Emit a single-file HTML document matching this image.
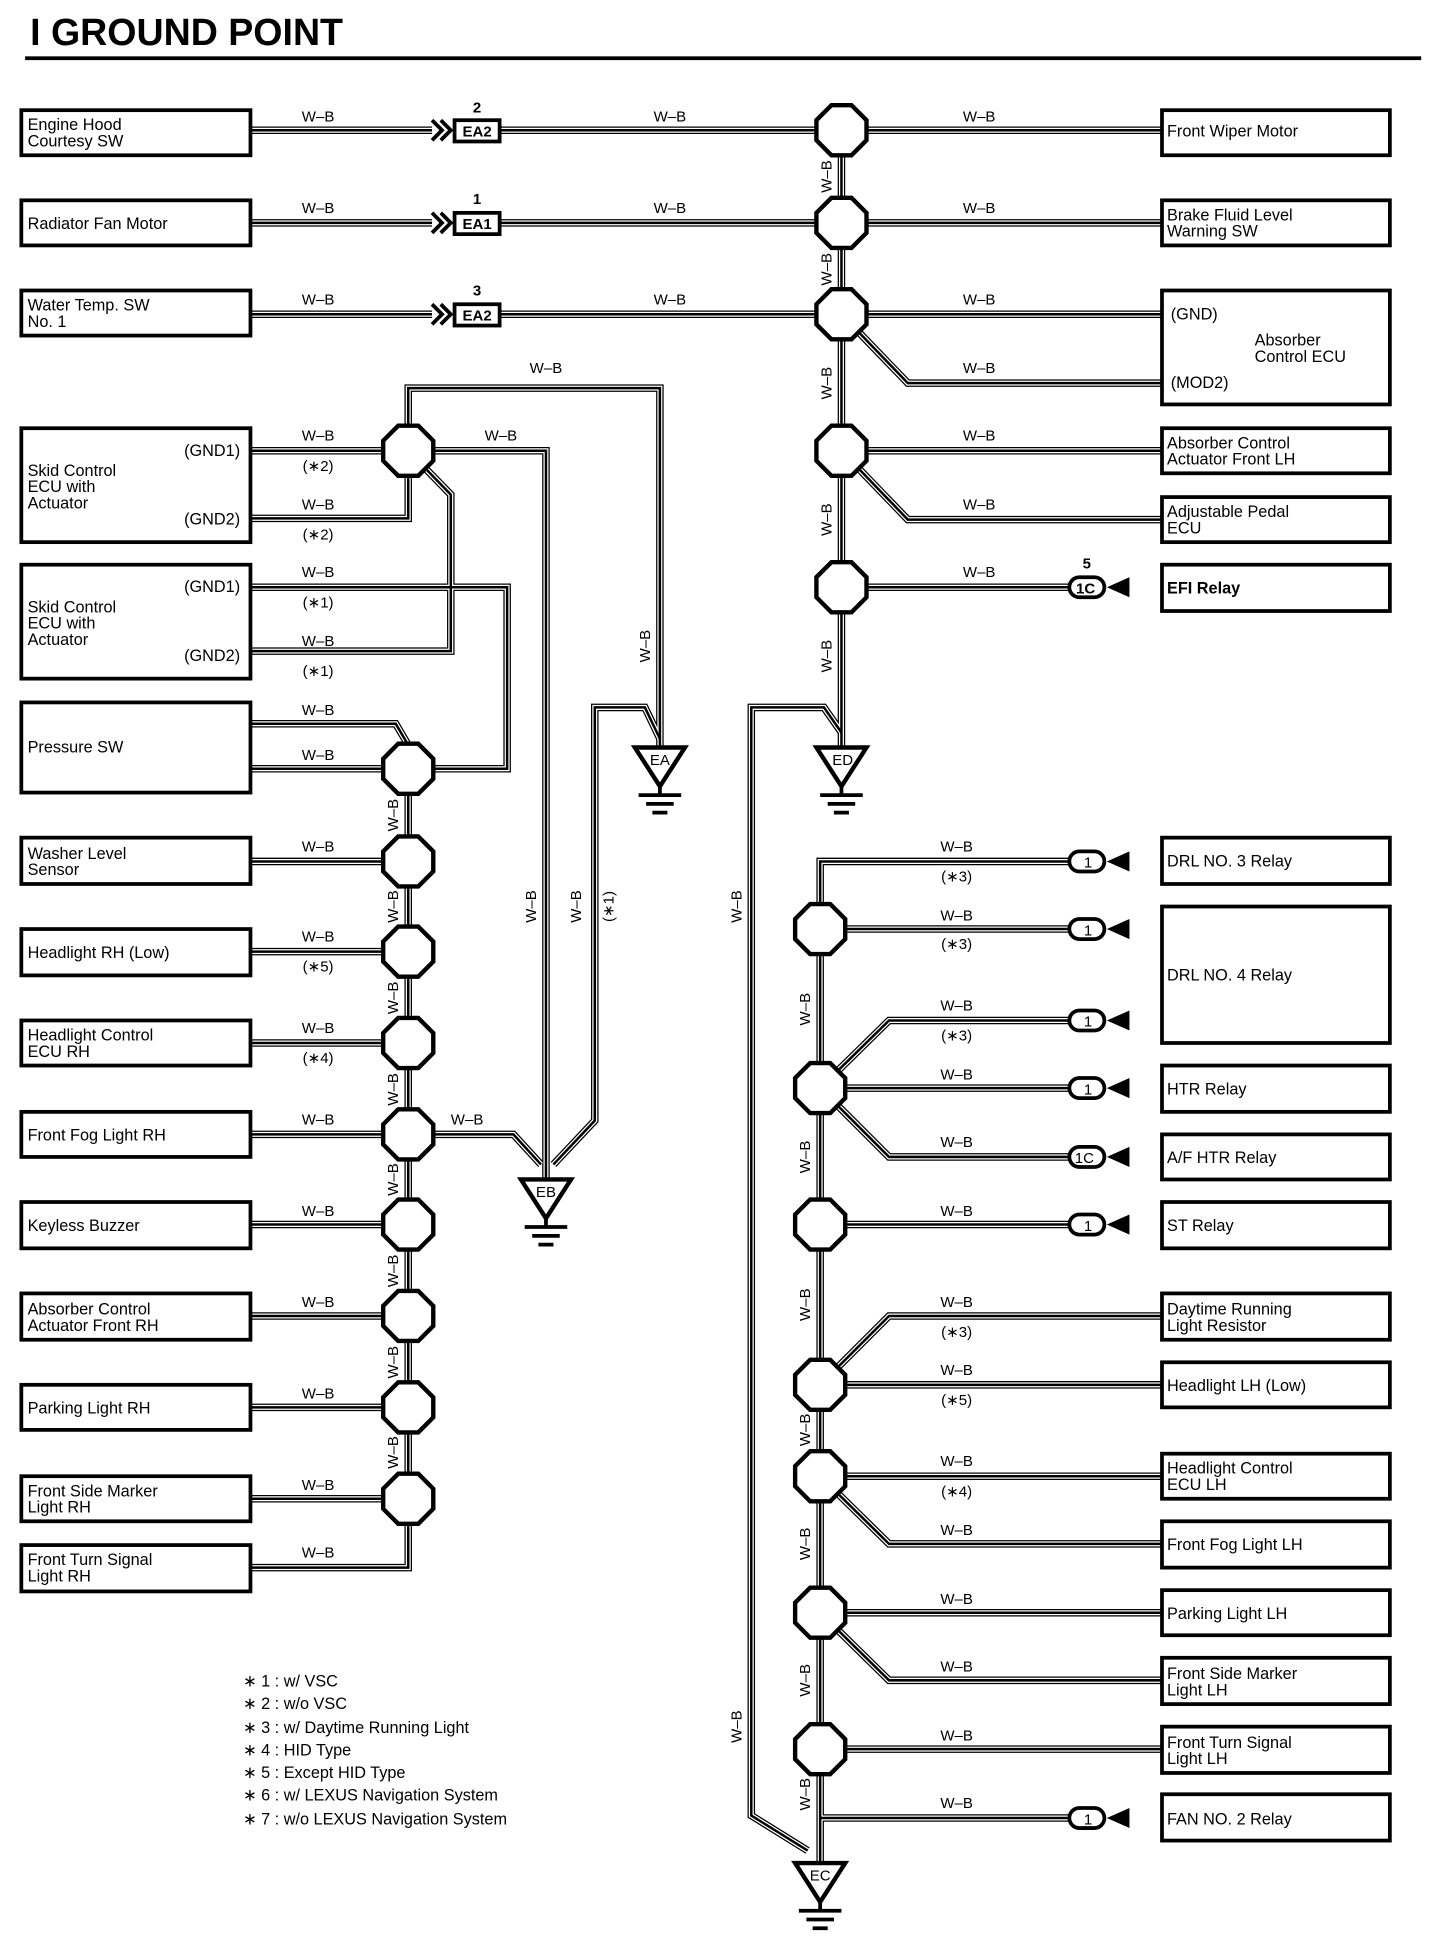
<!DOCTYPE html>
<html><head><meta charset="utf-8"><style>
html,body{margin:0;padding:0;background:#fff}
svg{display:block}
text{font-family:"Liberation Sans",sans-serif;fill:#000}
.t{font-size:13px}
.l{font-size:12px}
</style></head><body>
<svg width="1440" height="1942" viewBox="0 0 1150 1551" xmlns="http://www.w3.org/2000/svg">
<defs>
<g id="wires" fill="none" stroke-linejoin="miter">
<path d="M200,104L345,104M400,104L928,104M200,178L345,178M400,178L928,178M200,251L345,251M400,251L928,251"/>
<path d="M672,104L672,597M672,251L725,306L928,306M672,360L928,360M672,360L725,415L928,415M672,469L855,469"/>
<path d="M672,585L658,565L600,565L600,1450L645,1478"/>
<path d="M655,742L655,1488M655,742L655,688L855,688M655,742L855,742M655,869L710,815L855,815M655,869L855,869M655,869L710,924L855,924M655,978L855,978M655,1106L710,1051L928,1051M655,1106L928,1106M655,1179L928,1179M655,1179L710,1233L928,1233M655,1288L928,1288M655,1288L710,1342L928,1342M655,1397L928,1397M655,1452L855,1452"/>
<path d="M200,360L326,360M200,414L326,414L326,360M326,360L326,310L527,310L527,597M326,360L436,360L436,942M326,360L360,395L360,520L200,520M200,469L405,469L405,614L326,614M200,578L316,578L326,595M200,614L326,614M326,614L326,1252L200,1252"/>
<path d="M200,688L326,688M200,760L326,760M200,833L326,833M200,906L326,906M200,978L326,978M200,1051L326,1051M200,1124L326,1124M200,1197L326,1197"/>
<path d="M326,906L410,906L432,930M527,590L515,565L475,565L475,895L442,930"/>
</g>
<polygon id="oct" points="-8,-20 8,-20 20,-8 20,8 8,20 -8,20 -20,8 -20,-8" fill="#fff" stroke="#000" stroke-width="3.5"/>
<g id="gnd" stroke="#000" fill="#fff">
<polygon points="-20,0 20,0 0,31" stroke-width="3.5"/>
<path d="M0,31V38M-17,38H17M-11,45H11M-6,52H6" stroke-width="3"/>
</g>
<g id="con1">
<rect x="-14" y="-8" width="28" height="16" rx="8" fill="#fff" stroke="#000" stroke-width="3"/>
<polygon points="16,0 34,-8 34,8" fill="#000"/>
</g>
<g id="ea">
<rect x="18" y="-8" width="36" height="17" fill="#fff" stroke="#000" stroke-width="3"/>
<path d="M0,-8L8,0L0,8M7,-8L15,0L7,8" fill="none" stroke="#000" stroke-width="3"/>
</g>
</defs>
<text x="24" y="36" style="font-size:30px;font-weight:bold">I  GROUND POINT</text>
<rect x="20" y="45" width="1115" height="3" fill="#000"/>

<use href="#wires" stroke="#000" stroke-width="6"/>
<use href="#wires" stroke="#fff" stroke-width="4"/>
<use href="#wires" stroke="#000" stroke-width="2"/>

<g fill="#fff" stroke="#000" stroke-width="3">
<rect x="17" y="88" width="183" height="36"/><rect x="17" y="160" width="183" height="36"/><rect x="17" y="232" width="183" height="36"/>
<rect x="17" y="342" width="183" height="91"/><rect x="17" y="451" width="183" height="91"/><rect x="17" y="561" width="183" height="72"/>
<rect x="17" y="669" width="183" height="37"/><rect x="17" y="742" width="183" height="37"/><rect x="17" y="815" width="183" height="36"/>
<rect x="17" y="888" width="183" height="36"/><rect x="17" y="960" width="183" height="37"/><rect x="17" y="1033" width="183" height="37"/>
<rect x="17" y="1106" width="183" height="36"/><rect x="17" y="1179" width="183" height="36"/><rect x="17" y="1234" width="183" height="37"/>
<rect x="928" y="88" width="182" height="36"/><rect x="928" y="160" width="182" height="36"/><rect x="928" y="232" width="182" height="91"/>
<rect x="928" y="342" width="182" height="36"/><rect x="928" y="397" width="182" height="36"/><rect x="928" y="451" width="182" height="37"/>
<rect x="928" y="669" width="182" height="37"/><rect x="928" y="724" width="182" height="109"/><rect x="928" y="851" width="182" height="37"/>
<rect x="928" y="906" width="182" height="36"/><rect x="928" y="960" width="182" height="37"/><rect x="928" y="1033" width="182" height="37"/>
<rect x="928" y="1088" width="182" height="36"/><rect x="928" y="1161" width="182" height="36"/><rect x="928" y="1215" width="182" height="37"/>
<rect x="928" y="1270" width="182" height="36"/><rect x="928" y="1324" width="182" height="37"/><rect x="928" y="1379" width="182" height="37"/>
<rect x="928" y="1433" width="182" height="37"/>
</g>

<g class="t">
<text x="22" y="104">Engine Hood</text><text x="22" y="117">Courtesy SW</text>
<text x="22" y="183">Radiator Fan Motor</text>
<text x="22" y="248">Water Temp.  SW</text><text x="22" y="261">No. 1</text>
<text x="22" y="380">Skid Control</text><text x="22" y="393">ECU with</text><text x="22" y="406">Actuator</text>
<text x="147" y="364">(GND1)</text><text x="147" y="419">(GND2)</text>
<text x="22" y="489">Skid Control</text><text x="22" y="502">ECU with</text><text x="22" y="515">Actuator</text>
<text x="147" y="473">(GND1)</text><text x="147" y="528">(GND2)</text>
<text x="22" y="601">Pressure SW</text>
<text x="22" y="686">Washer Level</text><text x="22" y="699">Sensor</text>
<text x="22" y="765">Headlight RH (Low)</text>
<text x="22" y="831">Headlight Control</text><text x="22" y="844">ECU RH</text>
<text x="22" y="911">Front Fog Light RH</text>
<text x="22" y="983">Keyless Buzzer</text>
<text x="22" y="1050">Absorber Control</text><text x="22" y="1063">Actuator Front RH</text>
<text x="22" y="1129">Parking Light RH</text>
<text x="22" y="1195">Front Side Marker</text><text x="22" y="1208">Light RH</text>
<text x="22" y="1250">Front Turn Signal</text><text x="22" y="1263">Light RH</text>
<text x="932" y="109">Front Wiper Motor</text>
<text x="932" y="176">Brake Fluid Level</text><text x="932" y="189">Warning SW</text>
<text x="935" y="255">(GND)</text><text x="1002" y="276">Absorber</text><text x="1002" y="289">Control ECU</text><text x="935" y="310">(MOD2)</text>
<text x="932" y="358">Absorber Control</text><text x="932" y="371">Actuator Front LH</text>
<text x="932" y="413">Adjustable Pedal</text><text x="932" y="426">ECU</text>
<text x="932" y="474" style="font-weight:bold">EFI Relay</text>
<text x="932" y="692">DRL NO. 3 Relay</text>
<text x="932" y="783">DRL NO. 4 Relay</text>
<text x="932" y="874">HTR Relay</text>
<text x="932" y="929">A/F HTR Relay</text>
<text x="932" y="983">ST Relay</text>
<text x="932" y="1050">Daytime Running</text><text x="932" y="1063">Light Resistor</text>
<text x="932" y="1111">Headlight LH (Low)</text>
<text x="932" y="1177">Headlight Control</text><text x="932" y="1190">ECU LH</text>
<text x="932" y="1238">Front Fog Light LH</text>
<text x="932" y="1293">Parking Light LH</text>
<text x="932" y="1341">Front Side Marker</text><text x="932" y="1354">Light LH</text>
<text x="932" y="1396">Front Turn Signal</text><text x="932" y="1409">Light LH</text>
<text x="932" y="1457">FAN NO. 2 Relay</text>
</g>

<use href="#ea" x="345" y="104"/><use href="#ea" x="345" y="178"/><use href="#ea" x="345" y="251"/>
<g class="l" style="font-weight:bold" text-anchor="middle">
<text x="381" y="109">EA2</text><text x="381" y="183">EA1</text><text x="381" y="256">EA2</text>
<text x="381" y="90">2</text><text x="381" y="163">1</text><text x="381" y="236">3</text>
</g>

<g>
<use href="#oct" x="672" y="104"/><use href="#oct" x="672" y="178"/><use href="#oct" x="672" y="251"/><use href="#oct" x="672" y="360"/><use href="#oct" x="672" y="469"/>
<use href="#oct" x="326" y="360"/><use href="#oct" x="326" y="614"/><use href="#oct" x="326" y="688"/><use href="#oct" x="326" y="760"/><use href="#oct" x="326" y="833"/><use href="#oct" x="326" y="906"/><use href="#oct" x="326" y="978"/><use href="#oct" x="326" y="1051"/><use href="#oct" x="326" y="1124"/><use href="#oct" x="326" y="1197"/>
<use href="#oct" x="655" y="742"/><use href="#oct" x="655" y="869"/><use href="#oct" x="655" y="978"/><use href="#oct" x="655" y="1106"/><use href="#oct" x="655" y="1179"/><use href="#oct" x="655" y="1288"/><use href="#oct" x="655" y="1397"/>
</g>

<use href="#gnd" x="527" y="597"/><use href="#gnd" x="672" y="597"/><use href="#gnd" x="436" y="942"/><use href="#gnd" x="655" y="1488"/>
<g text-anchor="middle" style="font-size:12px">
<text x="527" y="611">EA</text><text x="673" y="611">ED</text><text x="436" y="956">EB</text><text x="655" y="1502">EC</text>
</g>

<g>
<use href="#con1" x="868" y="688"/><use href="#con1" x="868" y="742"/><use href="#con1" x="868" y="815"/><use href="#con1" x="868" y="869"/><use href="#con1" x="868" y="924"/><use href="#con1" x="868" y="978"/><use href="#con1" x="868" y="1452"/>
<use href="#con1" x="868" y="469"/>
</g>
<g class="l" text-anchor="middle">
<text x="869" y="693">1</text><text x="869" y="747">1</text><text x="869" y="820">1</text><text x="869" y="874">1</text><text x="866" y="929">1C</text><text x="869" y="983">1</text><text x="869" y="1457">1</text>
<text x="867" y="474" style="font-weight:bold">1C</text><text x="868" y="454" style="font-weight:bold">5</text>
</g>

<g class="l" text-anchor="middle">
<text x="254" y="97">W–B</text><text x="535" y="97">W–B</text><text x="782" y="97">W–B</text>
<text x="254" y="170">W–B</text><text x="535" y="170">W–B</text><text x="782" y="170">W–B</text>
<text x="254" y="243">W–B</text><text x="535" y="243">W–B</text><text x="782" y="243">W–B</text>
<text x="436" y="298">W–B</text><text x="782" y="298">W–B</text>
<text x="254" y="352">W–B</text><text x="400" y="352">W–B</text><text x="782" y="352">W–B</text>
<text x="254" y="407">W–B</text><text x="782" y="407">W–B</text>
<text x="254" y="461">W–B</text><text x="782" y="461">W–B</text>
<text x="254" y="516">W–B</text>
<text x="254" y="571">W–B</text><text x="254" y="607">W–B</text>
<text x="254" y="680">W–B</text><text x="254" y="752">W–B</text><text x="254" y="825">W–B</text><text x="254" y="898">W–B</text><text x="373" y="898">W–B</text>
<text x="254" y="971">W–B</text><text x="254" y="1044">W–B</text><text x="254" y="1117">W–B</text><text x="254" y="1190">W–B</text><text x="254" y="1244">W–B</text>
<text x="764" y="680">W–B</text><text x="764" y="735">W–B</text><text x="764" y="807">W–B</text><text x="764" y="862">W–B</text><text x="764" y="916">W–B</text><text x="764" y="971">W–B</text>
<text x="764" y="1044">W–B</text><text x="764" y="1098">W–B</text><text x="764" y="1171">W–B</text><text x="764" y="1226">W–B</text><text x="764" y="1281">W–B</text><text x="764" y="1335">W–B</text><text x="764" y="1390">W–B</text><text x="764" y="1444">W–B</text>
<text x="254" y="376">(∗2)</text><text x="254" y="431">(∗2)</text><text x="254" y="485">(∗1)</text><text x="254" y="540">(∗1)</text>
<text x="254" y="776">(∗5)</text><text x="254" y="849">(∗4)</text>
<text x="764" y="704">(∗3)</text><text x="764" y="758">(∗3)</text><text x="764" y="831">(∗3)</text><text x="764" y="1068">(∗3)</text><text x="764" y="1122">(∗5)</text><text x="764" y="1195">(∗4)</text>
</g>
<g class="l" text-anchor="middle">
<text transform="translate(664,141) rotate(-90)">W–B</text>
<text transform="translate(664,215) rotate(-90)">W–B</text>
<text transform="translate(664,306) rotate(-90)">W–B</text>
<text transform="translate(664,415) rotate(-90)">W–B</text>
<text transform="translate(664,524) rotate(-90)">W–B</text>
<text transform="translate(519,516) rotate(-90)">W–B</text>
<text transform="translate(428,724) rotate(-90)">W–B</text>
<text transform="translate(464,724) rotate(-90)">W–B</text>
<text transform="translate(490,724) rotate(-90)">(∗1)</text>
<text transform="translate(592,724) rotate(-90)">W–B</text>
<text transform="translate(592,1379) rotate(-90)">W–B</text>
<text transform="translate(318,651) rotate(-90)">W–B</text>
<text transform="translate(318,724) rotate(-90)">W–B</text>
<text transform="translate(318,797) rotate(-90)">W–B</text>
<text transform="translate(318,870) rotate(-90)">W–B</text>
<text transform="translate(318,942) rotate(-90)">W–B</text>
<text transform="translate(318,1015) rotate(-90)">W–B</text>
<text transform="translate(318,1088) rotate(-90)">W–B</text>
<text transform="translate(318,1160) rotate(-90)">W–B</text>
<text transform="translate(647,806) rotate(-90)">W–B</text>
<text transform="translate(647,924) rotate(-90)">W–B</text>
<text transform="translate(647,1042) rotate(-90)">W–B</text>
<text transform="translate(647,1142) rotate(-90)">W–B</text>
<text transform="translate(647,1233) rotate(-90)">W–B</text>
<text transform="translate(647,1342) rotate(-90)">W–B</text>
<text transform="translate(647,1433) rotate(-90)">W–B</text>
</g>

<g class="t">
<text x="194" y="1347">∗ 1 : w/ VSC</text>
<text x="194" y="1365">∗ 2 : w/o VSC</text>
<text x="194" y="1384">∗ 3 : w/ Daytime Running Light</text>
<text x="194" y="1402">∗ 4 : HID Type</text>
<text x="194" y="1420">∗ 5 : Except HID Type</text>
<text x="194" y="1438">∗ 6 : w/ LEXUS Navigation System</text>
<text x="194" y="1457">∗ 7 : w/o LEXUS Navigation System</text>
</g>
</svg>
</body></html>
